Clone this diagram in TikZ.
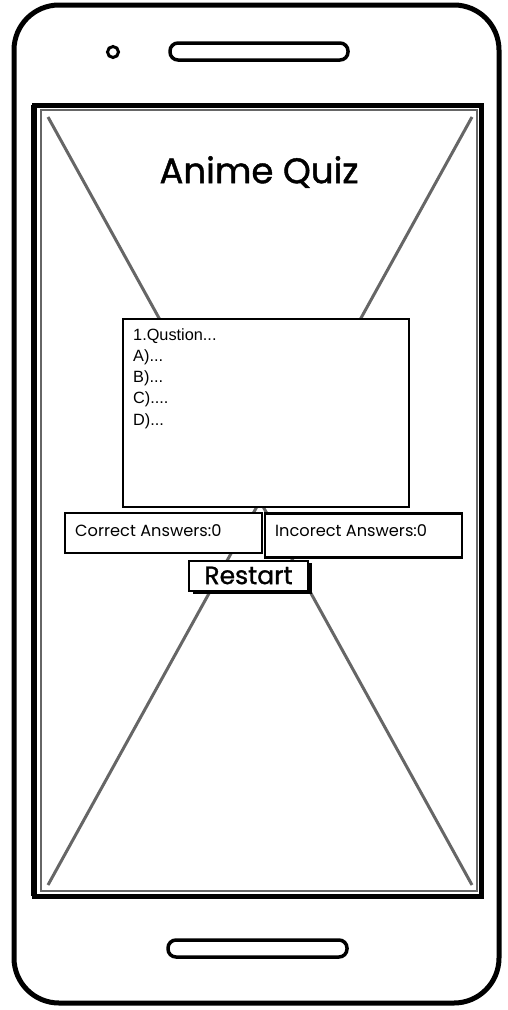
\documentclass[tikz,border=0pt]{standalone}
\usepackage{fontspec}
\setmainfont{Poppins}
\newfontfamily\titlefont[FakeBold=1.2]{Poppins}
\newfontfamily\arialfont{Liberation Sans}
\begin{document}
\begin{tikzpicture}[x=1pt,y=-1pt,
  frame/.style={draw=black,line width=5pt,line join=round},
  pill/.style={draw=black,line width=3.5pt,rounded corners=8pt},
  xline/.style={draw=black!60,line width=3pt},
  box/.style={draw=black,line width=2.5pt,fill=white,inner sep=0pt},
  lbl/.style={font=\fontsize{16.2}{18}\selectfont,anchor=west,inner sep=0pt}]
\useasboundingbox (0,0) rectangle (508,1010);
% phone body
\draw[frame,rounded corners=45pt] (14,5) rectangle (499,1003);
% camera and speakers
\node[draw=black,line width=3pt,circle,minimum size=11pt,inner sep=0pt] (cam) at (113,52) {};
\draw[pill] (170,43) rectangle (348,60);
\draw[pill] (168,940) rectangle (347,957);
% screen
\draw[draw=black,line width=5pt] (34,105) rectangle (481,896);
\draw[draw=black!60,line width=1.2pt] (41,110) rectangle (477,891);
\coordinate (tl) at (48,117);
\coordinate (tr) at (472,117);
\coordinate (bl) at (48,885);
\coordinate (br) at (472,885);
\draw[xline] (tl) -- (br);
\draw[xline] (tr) -- (bl);
\draw[draw=black,line width=6pt] (34,105) -- (34,896);
% title
\node[font=\titlefont\fontsize{35.5}{40}\selectfont] (title) at (259,172) {Anime Quiz};
% question box
\node[box,minimum width=286pt,minimum height=188pt] (qbox) at (266,413) {};
\node[anchor=north west,inner sep=0pt,align=left,font=\arialfont\fontsize{16.3}{21.3}\selectfont] (qtext) at (133,328)
  {1.Qustion...\\A)...\\B)...\\C)....\\D)...};
% answer boxes
\node[box,minimum width=197pt,minimum height=40pt] (cbox) at (163.5,533) {};
\node[lbl] (ctext) at (75,531) {Correct Answers:0};
\node[box,minimum width=197pt,minimum height=44pt] (ibox) at (363.5,535.5) {};
\node[lbl] (itext) at (275,531) {Incorect Answers:0};
% restart button
\fill[black] (193,563) rectangle (312,594);
\node[box,minimum width=119pt,minimum height=30pt,line width=2pt] (rbtn) at (248.5,575.5) {};
\node[font=\titlefont\fontsize{25}{27}\selectfont,inner sep=0pt] (rtext) at (248.5,575.5) {Restart};
\end{tikzpicture}
\end{document}
